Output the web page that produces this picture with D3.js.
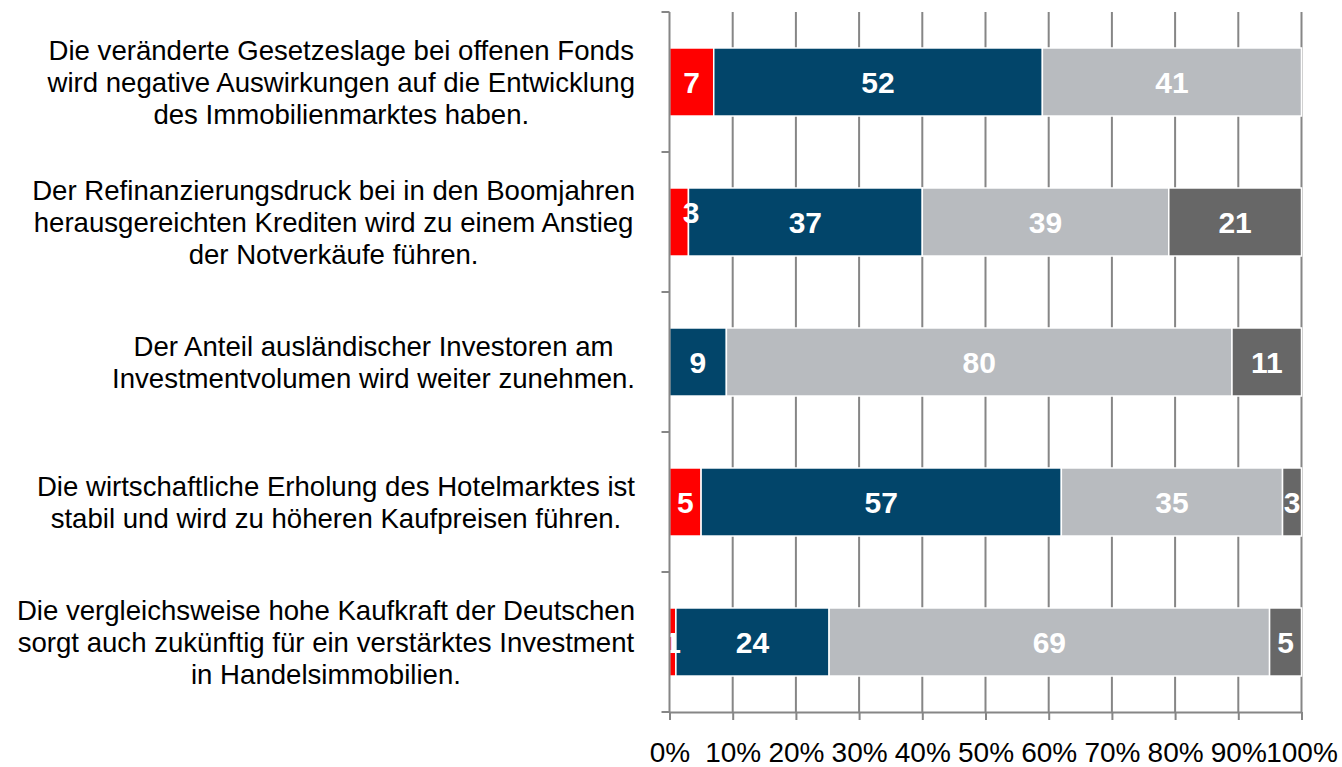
<!DOCTYPE html>
<html><head><meta charset="utf-8">
<script src="https://cdn.jsdelivr.net/npm/d3@7/dist/d3.min.js"></script>
<style>body{margin:0;background:#fff;}svg{display:block;font-family:Arial,"Liberation Sans",sans-serif;}</style>
</head><body>
<svg id="chart" width="1342" height="767"></svg>
<script>
// ---- data ----
const categories = [
  "Die veränderte Gesetzeslage bei offenen Fonds\nwird negative Auswirkungen auf die Entwicklung\ndes Immobilienmarktes haben.",
  "Der Refinanzierungsdruck bei in den Boomjahren\nherausgereichten Krediten wird zu einem Anstieg\nder Notverkäufe führen.",
  "Der Anteil ausländischer Investoren am\nInvestmentvolumen wird weiter zunehmen.",
  "Die wirtschaftliche Erholung des Hotelmarktes ist\nstabil und wird zu höheren Kaufpreisen führen.",
  "Die vergleichsweise hohe Kaufkraft der Deutschen\nsorgt auch zukünftig für ein verstärktes Investment\nin Handelsimmobilien."
];
const seriesNames = ["Serie 1", "Serie 2", "Serie 3", "Serie 4"];
const series1 = [7, 3, 0, 5, 1];
const series2 = [52, 37, 9, 57, 24];
const series3 = [41, 39, 80, 35, 69];
const series4 = [0, 21, 11, 3, 5];
const tickValues = [0, 10, 20, 30, 40, 50, 60, 70, 80, 90, 100];
const tickLabels = ["0%", "10%", "20%", "30%", "40%", "50%", "60%", "70%", "80%", "90%", "100%"];
const colors = ["#ff0000", "#02456a", "#b8bbbf", "#676767"];

// ---- build table ----
const allSeries = [series1, series2, series3, series4];
const rows = categories.map((c, i) => {
  const r = { cat: c };
  seriesNames.forEach((s, j) => r[s] = allSeries[j][i]);
  return r;
});

const svg = d3.select("#chart");
const plotTop = 12, plotBottom = 712, plotLeft = 669.5, plotRight = 1301.5;
const x = d3.scaleLinear().domain([0, 100]).range([plotLeft, plotRight]);
const y = d3.scaleBand().domain(categories).range([plotTop, plotBottom]).paddingInner(0.514).paddingOuter(0.257);
const step = y.step();
const gridColor = "#868686";

// gridlines
svg.append("g").selectAll("line").data(tickValues.slice(1)).join("line")
  .attr("x1", d => x(d)).attr("x2", d => x(d))
  .attr("y1", plotTop).attr("y2", plotBottom)
  .attr("stroke", gridColor).attr("stroke-width", 2);

// stacked bars (100% stacked)
const stack = d3.stack().keys(seriesNames).offset(d3.stackOffsetExpand);
const stacked = stack(rows);
const g = svg.append("g");
stacked.forEach((layer, j) => {
  const lg = g.append("g");
  lg.selectAll("rect").data(layer.filter(d => d.data[seriesNames[j]] > 0)).join("rect")
    .attr("x", d => x(d[0] * 100))
    .attr("width", d => x(d[1] * 100) - x(d[0] * 100))
    .attr("y", d => y(d.data.cat))
    .attr("height", y.bandwidth())
    .attr("fill", colors[j])
    .attr("stroke", "#ffffff").attr("stroke-width", 1.5);
});

// labels
const labelNudge = { "1-0": [12, -10] };
stacked.forEach((layer, j) => {
  layer.forEach((d, i) => {
    const v = d.data[seriesNames[j]];
    if (v <= 0) return;
    const n = labelNudge[i + "-" + j] || [0, 0];
    svg.append("text")
      .attr("x", x((d[0] + d[1]) / 2 * 100) + n[0])
      .attr("y", y(d.data.cat) + y.bandwidth() / 2 + 11 + n[1])
      .attr("text-anchor", "middle")
      .attr("font-size", 30).attr("font-weight", "bold")
      .attr("fill", "#ffffff")
      .text(v);
  });
});

// y axis line and ticks at band boundaries
const ya = svg.append("g");
ya.append("line").attr("x1", plotLeft).attr("x2", plotLeft).attr("y1", plotTop).attr("y2", plotBottom)
  .attr("stroke", gridColor).attr("stroke-width", 2);
ya.selectAll("line.t").data(d3.range(categories.length + 1)).join("line").attr("class", "t")
  .attr("x1", plotLeft - 8).attr("x2", plotLeft)
  .attr("y1", i => plotTop + i * step).attr("y2", i => plotTop + i * step)
  .attr("stroke", gridColor).attr("stroke-width", 2);

// x axis
const xa = svg.append("g").attr("transform", `translate(0,${plotBottom})`)
  .call(d3.axisBottom(x).tickValues(tickValues).tickSize(8).tickSizeOuter(0)
    .tickFormat((d, i) => tickLabels[i]));
xa.select(".domain").attr("stroke", gridColor).attr("stroke-width", 2);
xa.selectAll(".tick line").attr("stroke", gridColor).attr("stroke-width", 2);
xa.selectAll(".tick text").attr("y", 50).attr("dy", 0)
  .attr("font-size", 28).attr("fill", "#000").attr("font-family", "Arial, 'Liberation Sans', sans-serif");

// category labels: lines centred within a block whose right edge sits next to the axis
const fs = 27.6, lh = 32, labelRight = 635;
categories.forEach(c => {
  const lines = c.split("\n");
  const cy = y(c) + y.bandwidth() / 2;
  const texts = lines.map((ln, k) => svg.append("text")
      .attr("font-size", fs).attr("fill", "#000")
      .attr("text-anchor", "middle")
      .attr("y", cy + (k - (lines.length - 1) / 2) * lh + 9.5)
      .text(ln));
  const maxW = d3.max(texts, t => t.node().getComputedTextLength());
  texts.forEach(t => t.attr("x", labelRight - maxW / 2));
});
</script>
</body></html>
